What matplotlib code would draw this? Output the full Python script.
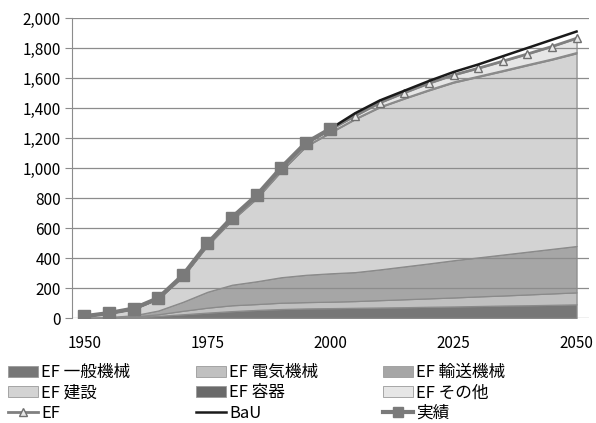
import matplotlib
matplotlib.use("Agg")
import matplotlib.pyplot as plt
from matplotlib.patches import Patch
from matplotlib.lines import Line2D
from matplotlib.ticker import FuncFormatter

plt.rcParams["font.family"] = ["Noto Sans CJK JP", "DejaVu Sans"]

# ------------- DATA -----------------
years = list(range(1950, 2051, 5))

ippan = [1, 2, 5, 14, 25, 36, 46, 54, 60, 64, 66, 68, 70, 72, 75, 77, 80, 83, 85, 88, 91]
denki = [1, 2, 5, 11, 23, 33, 39, 39, 42, 42, 43, 45, 49, 53, 56, 60, 64, 67, 72, 76, 80]
yuso = [1, 3, 8, 25, 60, 106, 137, 152, 170, 182, 189, 193, 205, 219, 233, 248, 260, 273, 285, 297, 309]
kensetsu = [8, 24, 41, 77, 167, 308, 431, 552, 708, 856, 938, 1020, 1081, 1119, 1154, 1185,
            1204, 1223, 1243, 1262, 1285]
youki = [0, 0, 1, 1, 2, 3, 4, 5, 5, 6, 6, 6, 6, 6, 7, 7, 7, 7, 7, 7, 8]
sonota = [1, 2, 2, 4, 6, 9, 11, 13, 15, 15, 16, 16, 24, 33, 40, 43, 50, 59, 68, 80, 92]

ef = [12, 33, 62, 132, 283, 495, 668, 815, 1000, 1165, 1258, 1348, 1435, 1502, 1565, 1620,
      1665, 1712, 1760, 1810, 1865]
bau_years = years[10:]
bau = [1262, 1365, 1450, 1515, 1580, 1640, 1690, 1745, 1800, 1855, 1910]
jisseki_years = years[:11]
jisseki = [12, 33, 63, 133, 285, 497, 670, 818, 1003, 1168, 1262]

stack_labels = ["EF 一般機械", "EF 電気機械", "EF 輸送機械", "EF 建設", "EF 容器", "EF その他"]
stack_colors = ["#777777", "#c0c0c0", "#a6a6a6", "#d3d3d3", "#6a6a6a", "#e6e6e6"]
tick_years = [1950, 1975, 2000, 2025, 2050]
# -------------------------------------

idx = {y: i for i, y in enumerate(years)}
x = [idx[y] for y in years]

fig = plt.figure(figsize=(5.96, 4.23), dpi=100)
ax = fig.add_axes([0.121, 0.2482, 0.867, 0.7092])

ax.stackplot(x, ippan, denki, yuso, kensetsu, youki, sonota,
             colors=stack_colors, edgecolor="#8a8a8a", linewidth=0.9, zorder=1)

ax.plot(x, ef, color="#808080", lw=2, marker="^", ms=5.5,
        mfc="#e8e8e8", mec="#707070", mew=1, zorder=4)
ax.plot([idx[y] for y in bau_years], bau, color="#1a1a1a", lw=1.8, zorder=5)
ax.plot([idx[y] for y in jisseki_years], jisseki, color="#7a7a7a", lw=3,
        marker="s", ms=8, zorder=6)

ax.set_xlim(-0.5, 20.5)
ax.set_ylim(0, 2000)
ax.set_yticks(range(0, 2001, 200))
ax.yaxis.set_major_formatter(FuncFormatter(lambda v, p: f"{int(v):,}"))
ax.set_xticks([idx[y] for y in tick_years])
ax.set_xticklabels([str(y) for y in tick_years])

ax.set_axisbelow(False)
ax.yaxis.grid(True, color="#8c8c8c", lw=0.9)
for s in ["top", "right", "bottom"]:
    ax.spines[s].set_visible(False)
ax.spines["left"].set_color("#8c8c8c")
ax.tick_params(axis="y", length=5, color="#8c8c8c", labelsize=11, pad=3)
ax.tick_params(axis="x", length=0, labelsize=11, pad=12)

# legend, three columns placed by hand
patches = [Patch(facecolor=c, edgecolor="#9a9a9a", lw=0.6, label=l)
           for c, l in zip(stack_colors, stack_labels)]
h_ef = Line2D([], [], color="#808080", lw=2, marker="^", ms=5.5,
              mfc="#e8e8e8", mec="#707070", label="EF")
h_bau = Line2D([], [], color="#1a1a1a", lw=1.8, label="BaU")
h_jis = Line2D([], [], color="#7a7a7a", lw=3, marker="s", ms=7, label="実績")

columns = [[patches[0], patches[3], h_ef],
           [patches[1], patches[4], h_bau],
           [patches[2], patches[5], h_jis]]
for col, xpos in zip(columns, [8, 196, 383]):
    fig.legend(handles=col, loc="upper left",
               bbox_to_anchor=(xpos / 596, 1 - 364 / 423),
               frameon=False, fontsize=12, handlelength=1.8, handleheight=0.65,
               handletextpad=0.2, labelspacing=0.2, borderpad=0, borderaxespad=0)

fig.savefig("out.png", dpi=100)
